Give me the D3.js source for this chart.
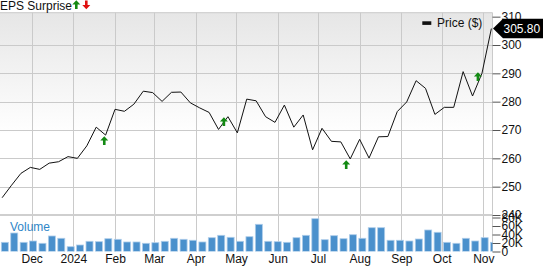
<!DOCTYPE html>
<html>
<head>
<meta charset="utf-8">
<script src="https://cdn.jsdelivr.net/npm/d3@7"></script>
<style>
  body { margin: 0; background: #fff; }
  svg { display: block; font-family: "Liberation Sans", Arial, sans-serif; }
</style>
</head>
<body>
<svg></svg>
<script>
let width = 543, height = 266;

// weekly closes
let dates = ["2023-11-09","2023-11-16","2023-11-23","2023-11-30","2023-12-07","2023-12-14","2023-12-21","2023-12-28",
  "2024-01-04","2024-01-11","2024-01-18","2024-01-25","2024-02-01","2024-02-08","2024-02-15","2024-02-22","2024-02-29",
  "2024-03-07","2024-03-14","2024-03-21","2024-03-28","2024-04-04","2024-04-11","2024-04-18","2024-04-25",
  "2024-05-02","2024-05-09","2024-05-16","2024-05-23","2024-05-30","2024-06-06","2024-06-13","2024-06-20","2024-06-27",
  "2024-07-04","2024-07-11","2024-07-18","2024-07-25","2024-08-01","2024-08-08","2024-08-15","2024-08-22","2024-08-29",
  "2024-09-05","2024-09-12","2024-09-19","2024-09-26","2024-10-03","2024-10-10","2024-10-17","2024-10-24","2024-10-31","2024-11-07"];

let prices = [246.1, 250.5, 254.7, 256.8, 256.1, 258.3, 258.8, 260.6, 260.0, 264.4, 271.0, 268.2, 277.3,
  276.6, 279.1, 283.7, 283.2, 280.1, 283.3, 283.4, 279.6, 277.8, 276.2, 270.2, 274.7, 269.0, 280.9,
  280.3, 274.7, 272.7, 278.8, 271.0, 275.3, 263.0, 270.6, 266.0, 265.8, 259.8, 266.7, 260.1, 267.6,
  267.7, 276.5, 279.9, 287.4, 284.7, 275.5, 278.0, 278.0, 290.6, 282.0, 290.0, 305.8];

// volume in thousands
let volumes = [21.6, 43.5, 21.6, 24.7, 19.3, 36.5, 31.1, 11.3, 15.3, 24.0, 23.1, 30.1, 28.7, 22.4,
  22.4, 19.3, 20.7, 24.0, 31.1, 28.7, 26.4, 22.4, 32.5, 38.1, 33.4, 24.0, 34.8, 64.0, 24.0, 23.1,
  21.6, 32.5, 38.1, 77.2, 27.8, 37.2, 30.1, 39.5, 31.1, 56.0, 56.0, 26.4, 26.4, 24.7, 29.4, 50.6,
  45.2, 21.6, 19.3, 31.1, 24.7, 32.5, 21.6];

// EPS surprise arrows (all positive)
let epsDates = ["2024-01-24", "2024-04-22", "2024-07-22", "2024-10-28"];
let epsLevels = [266.2, 272.9, 257.7, 288.8];

let monthDates = ["2023-12-01","2024-01-01","2024-02-01","2024-03-01","2024-04-01","2024-05-01",
  "2024-06-01","2024-07-01","2024-08-01","2024-09-01","2024-10-01","2024-11-01"];
let monthLabels = ["Dec","2024","Feb","Mar","Apr","May","Jun","Jul","Aug","Sep","Oct","Nov"];

let priceTicks = [240, 250, 260, 270, 280, 290, 300, 310];
let volumeTicks = [0, 20, 40, 60, 80];
let lastPrice = 305.80;

let parse = d3.timeParse("%Y-%m-%d");
let data = dates.map((d, i) => ({ date: parse(d), price: prices[i], volume: volumes[i] }));

let plotLeft = 0, plotRight = 492.5;
let priceTop = 12.7, priceBottom = 215, volBottom = 251.5;

let svg = d3.select("svg")
    .attr("width", width)
    .attr("height", height)
    .attr("viewBox", "0 0 " + width + " " + height);

let x = d3.scaleTime()
    .domain([parse("2023-12-01"), parse("2024-11-01")])
    .range([31.7, 483.3]);

let y = d3.scaleLinear()
    .domain([240, 311.4])
    .range([priceBottom, priceTop]);

let yVol = d3.scaleLinear()
    .domain([0, 85.9])
    .range([volBottom, priceBottom]);

// background gradient of the price pane
let defs = svg.append("defs");
let grad = defs.append("linearGradient")
    .attr("id", "bg")
    .attr("x1", 0).attr("y1", 0).attr("x2", 0).attr("y2", 1);
grad.append("stop").attr("offset", "0%").attr("stop-color", "#e6e6e6");
grad.append("stop").attr("offset", "60%").attr("stop-color", "#ffffff");

defs.append("clipPath").attr("id", "clip")
  .append("rect")
    .attr("x", plotLeft).attr("y", priceTop)
    .attr("width", plotRight - plotLeft).attr("height", volBottom - priceTop);

svg.append("rect")
    .attr("x", plotLeft).attr("y", priceTop)
    .attr("width", plotRight - plotLeft).attr("height", priceBottom - priceTop)
    .attr("fill", "url(#bg)");

// grid
let grid = svg.append("g").attr("stroke", "#cacaca").attr("stroke-width", 1);
grid.selectAll("line.v")
    .data(monthDates)
    .enter()
    .append("line")
    .attr("x1", d => Math.round(x(parse(d))) + 0.5)
    .attr("x2", d => Math.round(x(parse(d))) + 0.5)
    .attr("y1", priceTop)
    .attr("y2", volBottom);
grid.selectAll("line.h")
    .data(priceTicks.filter(d => d > 240 && d < 310))
    .enter()
    .append("line")
    .attr("x1", plotLeft)
    .attr("x2", plotRight)
    .attr("y1", d => Math.round(y(d)) + 0.5)
    .attr("y2", d => Math.round(y(d)) + 0.5);
grid.append("line")
    .attr("x1", plotLeft).attr("x2", plotRight)
    .attr("y1", priceTop).attr("y2", priceTop);
grid.append("line")
    .attr("x1", plotRight).attr("x2", plotRight)
    .attr("y1", priceTop).attr("y2", volBottom);
// pane separator
svg.append("line")
    .attr("x1", plotLeft).attr("x2", plotRight)
    .attr("y1", priceBottom).attr("y2", priceBottom)
    .attr("stroke", "#cfcfcf")
    .attr("stroke-width", 2);

// volume bars
svg.append("g")
    .attr("clip-path", "url(#clip)")
    .selectAll("rect")
    .data(data)
    .enter()
    .append("rect")
    .attr("x", d => x(d.date) - 0.8)
    .attr("y", d => yVol(d.volume))
    .attr("width", 7)
    .attr("height", d => volBottom - yVol(d.volume))
    .attr("fill", "#4a90cc")
    .attr("stroke", "#aecdea")
    .attr("stroke-width", 0.8);

svg.append("text")
    .attr("x", 10)
    .attr("y", 230.5)
    .attr("font-size", 12)
    .attr("fill", "#2f86c8")
    .text("Volume");

// price line
let line = d3.line()
    .x(d => x(d.date))
    .y(d => y(d.price));

svg.append("path")
    .datum(data)
    .attr("clip-path", "url(#clip)")
    .attr("fill", "none")
    .attr("stroke", "#111")
    .attr("stroke-width", 1)
    .attr("d", line);

// EPS arrows
function upArrow(g, cx, cy, color) {
    g.append("path")
        .attr("d", "M" + cx + "," + (cy - 4.5) + " L" + (cx + 4) + "," + (cy - 0.3) + " L" + (cx + 1.3) + "," + (cy - 0.3) +
            " L" + (cx + 1.3) + "," + (cy + 4.2) + " L" + (cx - 1.3) + "," + (cy + 4.2) + " L" + (cx - 1.3) + "," + (cy - 0.3) +
            " L" + (cx - 4) + "," + (cy - 0.3) + "Z")
        .attr("fill", color);
}
function downArrow(g, cx, cy, color) {
    g.append("path")
        .attr("d", "M" + cx + "," + (cy + 4.5) + " L" + (cx + 4) + "," + (cy + 0.3) + " L" + (cx + 1.3) + "," + (cy + 0.3) +
            " L" + (cx + 1.3) + "," + (cy - 4.2) + " L" + (cx - 1.3) + "," + (cy - 4.2) + " L" + (cx - 1.3) + "," + (cy + 0.3) +
            " L" + (cx - 4) + "," + (cy + 0.3) + "Z")
        .attr("fill", color);
}

let arrows = svg.append("g");
epsDates.forEach((d, i) => upArrow(arrows, x(parse(d)), y(epsLevels[i]), "#138a13"));

// header
svg.append("text")
    .attr("x", 0)
    .attr("y", 9.5)
    .attr("font-size", 12)
    .attr("fill", "#111")
    .text("EPS Surprise");
upArrow(svg, 76.3, 4.7, "#138a13");
downArrow(svg, 86.3, 4.7, "#e01010");

// legend
svg.append("rect")
    .attr("x", 422.3).attr("y", 21.3)
    .attr("width", 9).attr("height", 3.6)
    .attr("fill", "#111");
svg.append("text")
    .attr("x", 437)
    .attr("y", 27)
    .attr("font-size", 12)
    .attr("fill", "#111")
    .text("Price ($)");

// price axis
let yAxis = svg.append("g")
    .attr("transform", "translate(" + plotRight + ",0)")
    .call(d3.axisRight(y).tickValues(priceTicks).tickSize(8).tickPadding(1));
yAxis.select(".domain").remove();
yAxis.selectAll("line").attr("stroke", "#555");
yAxis.selectAll("text").attr("font-size", 12).attr("fill", "#111")
    .attr("font-family", "Liberation Sans, Arial, sans-serif");

// volume axis
let vAxis = svg.append("g")
    .attr("transform", "translate(" + plotRight + ",0)")
    .call(d3.axisRight(yVol).tickValues(volumeTicks).tickSize(8).tickPadding(1)
        .tickFormat(d => d === 0 ? "0" : d + "K"));
vAxis.select(".domain").remove();
vAxis.selectAll("line").attr("stroke", "#555");
vAxis.selectAll("text").attr("font-size", 12).attr("fill", "#111")
    .attr("font-family", "Liberation Sans, Arial, sans-serif");

// last price label
let ly = y(lastPrice);
svg.append("path")
    .attr("d", "M" + (plotRight + 0.5) + "," + ly + " L" + (plotRight + 10.5) + "," + (ly - 9.7) +
        " L" + width + "," + (ly - 9.7) + " L" + width + "," + (ly + 9.7) + " L" + (plotRight + 10.5) + "," + (ly + 9.7) + "Z")
    .attr("fill", "#000");
svg.append("text")
    .attr("x", 503.5)
    .attr("y", ly + 4.3)
    .attr("font-size", 12)
    .attr("fill", "#fff")
    .text(lastPrice.toFixed(2));

// month labels
let xAxis = svg.append("g")
    .attr("transform", "translate(0," + volBottom + ")")
    .call(d3.axisBottom(x).tickValues(monthDates.map(parse)).tickSize(0).tickPadding(3)
        .tickFormat((d, i) => monthLabels[i]));
xAxis.select(".domain").remove();
xAxis.selectAll("text").attr("font-size", 12).attr("fill", "#111")
    .attr("font-family", "Liberation Sans, Arial, sans-serif");
</script>
</body>
</html>
